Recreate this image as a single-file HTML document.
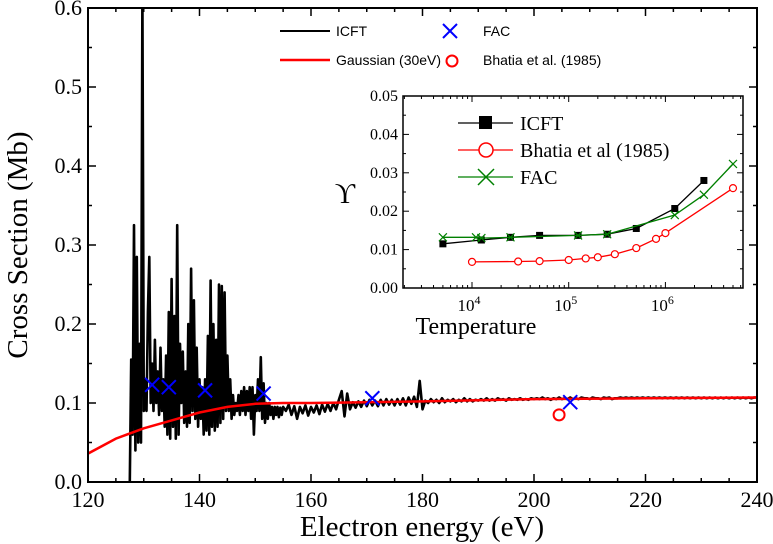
<!DOCTYPE html>
<html><head><meta charset="utf-8"><style>
html,body{margin:0;padding:0;background:#fff;}
svg{display:block;}
</style></head><body>
<svg id="chart" width="773" height="544" xmlns="http://www.w3.org/2000/svg">
<defs>
<clipPath id="mainclip"><rect x="88" y="8" width="669" height="474"/></clipPath>
<clipPath id="insetclip"><rect x="403" y="96" width="340" height="192"/></clipPath>
</defs>
<g id="main"></g>
<g id="inset"></g>
</svg>
<script>
// ---------- main chart data ----------
const icftStartA = 127.5, icftStepA = 0.25;
const icftValuesA = [0.0,0.155,0.06,0.325,0.04,0.285,0.05,0.175,0.05,0.62,0.09,0.13,0.09,0.215,0.285,0.1,0.15,0.09,0.18,0.1,0.14,0.085,0.17,0.09,0.13,0.07,0.16,0.06,0.215,0.055,0.257,0.07,0.21,0.055,0.325,0.06,0.175,0.1,0.165,0.075,0.14,0.07,0.2,0.075,0.27,0.09,0.23,0.08,0.17,0.07,0.13,0.08,0.12,0.06,0.13,0.065,0.185,0.06,0.255,0.07,0.2,0.065,0.18,0.07,0.25,0.075,0.248,0.08,0.24,0.09,0.16,0.09,0.13,0.08,0.11,0.085,0.1,0.09,0.11,0.085,0.115,0.09,0.12,0.085,0.115,0.09,0.12,0.08,0.12,0.06,0.11,0.09,0.13,0.09,0.158,0.08,0.125,0.075,0.1,0.08,0.1,0.085,0.095,0.08,0.095,0.085,0.095,0.082,0.094,0.085,0.095];
const icftStartB = 155.5, icftStepB = 0.5;
const icftValuesB = [
0.09,0.098,0.085,0.096,0.08,0.095,0.087,0.097,0.084,0.095,
0.088,0.097,0.086,0.098,0.089,0.099,0.09,0.1,0.092,0.104,
0.115,0.083,0.112,0.092,0.101,0.094,0.102,0.095,0.103,0.096,
0.104,0.097,0.103,0.096,0.104,0.097,0.105,0.098,0.104,0.097,
0.105,0.098,0.106,0.097,0.107,0.099,0.108,0.095,0.128,0.092,
0.103,0.1,0.105,0.101,0.104,0.1,0.106,0.101,0.104,0.102,
0.105,0.101,0.104,0.102,0.106,0.102,0.105,0.102,0.104,0.103,
0.105,0.103,0.106,0.103,0.105,0.103,0.106,0.104,0.105,0.103,
0.106,0.104,0.105,0.104,0.106,0.104,0.105,0.104,0.106,0.105,
0.106,0.105,0.107,0.105,0.106,0.104,0.106,0.105,0.107,0.105,
0.106,0.105,0.107,0.105,0.106,0.105,0.107,0.106,0.106,0.105,
0.107,0.106,0.106,0.105,0.107,0.106,0.107,0.105,0.106,0.106,
0.107,0.106,0.107,0.106,0.107,0.106,0.107,0.106,0.107,0.106,
0.107,0.106,0.107,0.106,0.107,0.106,0.107,0.106,0.107,0.106,
0.107,0.106,0.107,0.106,0.107,0.106,0.107,0.106,0.107,0.106,
0.107,0.106,0.107,0.106,0.107,0.106,0.107,0.106,0.107,0.106,
0.107,0.106,0.107,0.106,0.107,0.106,0.107,0.106,0.107,0.107];
const gaussE = [120,125,130,135,140,145,150,155,160,170,180,200,220,240];
const gaussV = [0.036,0.055,0.068,0.078,0.088,0.095,0.099,0.1,0.1,0.101,0.102,0.105,0.106,0.107];
const facE = [131.5,134.5,141,151.5,171,206.5];
const facV = [0.123,0.12,0.116,0.112,0.106,0.101];
const bhatiaE = [204.5];
const bhatiaV = [0.085];
const xTicks = [120,140,160,180,200,220,240];
const yTicks = [0.0,0.1,0.2,0.3,0.4,0.5,0.6];

// ---------- inset data ----------
const icftT = [5e3,1.25e4,2.5e4,5e4,1.25e5,2.5e5,5e5,1.25e6,2.5e6];
const icftU = [0.0115,0.0125,0.0132,0.0137,0.0137,0.014,0.0155,0.0207,0.028];
const bhT = [1e4,3e4,5e4,1e5,1.5e5,2e5,3e5,5e5,8e5,1e6,5e6];
const bhU = [0.0068,0.0069,0.007,0.0073,0.0077,0.008,0.0088,0.0104,0.0128,0.0143,0.026];
const facT = [5e3,1.1e4,1.25e4,2.5e4,1.25e5,2.5e5,1.25e6,2.5e6,5e6];
const facU = [0.0132,0.0132,0.013,0.0132,0.0137,0.014,0.019,0.0243,0.0323];
const insetYTicks = [0.00,0.01,0.02,0.03,0.04,0.05];
const insetXTicks = [4,5,6];

const NS="http://www.w3.org/2000/svg";
const SERIF='"Liberation Serif", serif';
const SANS='"Liberation Sans", sans-serif';
function mk(tag,attrs,parent){const e=document.createElementNS(NS,tag);
  if(tag==='text'&&!attrs['font-family'])e.setAttribute('font-family',SERIF);
  for(const k in attrs)e.setAttribute(k,attrs[k]);parent.appendChild(e);return e;}

const L=88,R=757,T=8,B=482;
const X=e=>L+(e-120)/(240-120)*(R-L);
const Y=v=>B-(v/0.6)*(B-T);
const main=document.getElementById('main');

let pts=[];
icftValuesA.forEach((v,i)=>pts.push([X(icftStartA+i*icftStepA),Y(v)]));
icftValuesB.forEach((v,i)=>pts.push([X(icftStartB+i*icftStepB),Y(v)]));
const icftPath=mk('path',{d:'M'+pts.map(p=>p[0].toFixed(1)+','+p[1].toFixed(1)).join('L'),fill:'none',stroke:'#000','stroke-width':2.6,'stroke-linejoin':'round','clip-path':'url(#mainclip)'},main);



const gp=mk('path',{d:'M'+gaussE.map((e,i)=>X(e).toFixed(1)+','+Y(gaussV[i]).toFixed(1)).join('L'),fill:'none',stroke:'#ff0000','stroke-width':2.5,'clip-path':'url(#mainclip)'},main);



function cross(g,x,y,s,col,w){mk('path',{d:`M${x-s},${y-s}L${x+s},${y+s}M${x-s},${y+s}L${x+s},${y-s}`,stroke:col,'stroke-width':w,fill:'none'},g);}
facE.forEach((e,i)=>{
  const g=mk('g',{},main);
  
  
  cross(g,X(e),Y(facV[i]),7,'#0000ff',2);
});
bhatiaE.forEach((e,i)=>{
  const c=mk('circle',{cx:X(e),cy:Y(bhatiaV[i]),r:5.5,fill:'none',stroke:'#ff0000','stroke-width':2},main);
  
  
});

const fr=mk('rect',{x:L,y:T,width:R-L,height:B-T,fill:'none',stroke:'#000','stroke-width':2},main);


for(let e=120;e<=240;e+=5){const big=(e%20===0);const l=big?8:4;
  mk('line',{x1:X(e),y1:B,x2:X(e),y2:B-l,stroke:'#000','stroke-width':1.5},main);
  mk('line',{x1:X(e),y1:T,x2:X(e),y2:T+l,stroke:'#000','stroke-width':1.5},main);}
for(let k=0;k<=12;k++){const v=k*0.05;const l=(k%2===0)?8:4;
  mk('line',{x1:L,y1:Y(v),x2:L+l,y2:Y(v),stroke:'#000','stroke-width':1.5},main);
  mk('line',{x1:R,y1:Y(v),x2:R-l,y2:Y(v),stroke:'#000','stroke-width':1.5},main);}
xTicks.forEach(t=>{const tx=mk('text',{x:X(t),y:B+25,'text-anchor':'middle','font-size':22},main);tx.textContent=t;
  
  });
yTicks.forEach(t=>{const tx=mk('text',{x:L-6,y:Y(t)+7,'text-anchor':'end','font-size':22},main);tx.textContent=t.toFixed(1);
  
  });
let xt=mk('text',{x:422,y:536,'text-anchor':'middle','font-size':29},main);xt.textContent='Electron energy (eV)';


let yt=mk('text',{x:0,y:0,'text-anchor':'middle','font-size':29,transform:'translate(27,245) rotate(-90)'},main);yt.textContent='Cross Section (Mb)';



const lg=mk('g',{},main);


mk('line',{x1:280,y1:31,x2:330,y2:31,stroke:'#000','stroke-width':2},lg);
mk('line',{x1:280,y1:60,x2:330,y2:60,stroke:'#ff0000','stroke-width':2.5},lg);
cross(lg,450,31,7,'#0000ff',2);
mk('circle',{cx:452,cy:61,r:5.5,fill:'none',stroke:'#ff0000','stroke-width':2},lg);
[['ICFT',336,36],['Gaussian (30eV)',336,65],['FAC',483,36],['Bhatia et al. (1985)',483,65]].forEach(a=>{
  const t=mk('text',{x:a[1],y:a[2],'font-size':14,'font-family':SANS},lg);t.textContent=a[0];
  
  });

const iL=403,iR=743,iT=96,iB=288;
const IX=t=>472+(Math.log10(t)-4)*96.7;
const IY=u=>iB-(u/0.05)*(iB-iT);
const ins=document.getElementById('inset');
const ifr=mk('rect',{x:iL,y:iT,width:iR-iL,height:iB-iT,fill:'#fff',stroke:'#000','stroke-width':1.5},ins);


for(let d=3;d<=6;d++){for(let m=1;m<10;m++){const v=m*Math.pow(10,d);const x=IX(v);if(x<iL||x>iR)continue;const l=m===1?6:3;
  mk('line',{x1:x,y1:iB,x2:x,y2:iB-l,stroke:'#000','stroke-width':1},ins);
  mk('line',{x1:x,y1:iT,x2:x,y2:iT+l,stroke:'#000','stroke-width':1},ins);}}
for(let k=0;k<=10;k++){const u=k*0.005;const l=(k%2===0)?6:3;
  mk('line',{x1:iL,y1:IY(u),x2:iL+l,y2:IY(u),stroke:'#000','stroke-width':1},ins);
  mk('line',{x1:iR,y1:IY(u),x2:iR-l,y2:IY(u),stroke:'#000','stroke-width':1},ins);}
insetYTicks.forEach(t=>{const tx=mk('text',{x:iL-5,y:IY(t)+5,'text-anchor':'end','font-size':16},ins);tx.textContent=t.toFixed(2);
  
  });
insetXTicks.forEach(p=>{const tx=mk('text',{x:IX(Math.pow(10,p))-3,y:iB+23,'text-anchor':'middle','font-size':17},ins);
  tx.appendChild(document.createTextNode('10'));const s=mk('tspan',{dy:-7,'font-size':12},tx);s.textContent=p;
  
  });
let it=mk('text',{x:476,y:334,'text-anchor':'middle','font-size':24},ins);it.textContent='Temperature';


let iy=mk('text',{x:345,y:203,'text-anchor':'middle','font-size':28},ins);iy.textContent='\u03D2';



function series(Ts,Us,col,name){const g=mk('g',{'clip-path':'url(#insetclip)'},ins);
  
  
  mk('path',{d:'M'+Ts.map((t,i)=>IX(t).toFixed(1)+','+IY(Us[i]).toFixed(1)).join('L'),fill:'none',stroke:col,'stroke-width':1.3},g);return g;}
const gI=series(icftT,icftU,'#000','inset-icft-series');
icftT.forEach((t,i)=>mk('rect',{x:IX(t)-3.5,y:IY(icftU[i])-3.5,width:7,height:7,fill:'#000'},gI));
const gB=series(bhT,bhU,'#ff0000','inset-bhatia-series');
bhT.forEach((t,i)=>mk('circle',{cx:IX(t),cy:IY(bhU[i]),r:3.5,fill:'#fff',stroke:'#ff0000','stroke-width':1.2},gB));
const gF=series(facT,facU,'#008000','inset-fac-series');
facT.forEach((t,i)=>cross(gF,IX(t),IY(facU[i]),4,'#008000',1.2));

const il=mk('g',{},ins);


mk('line',{x1:458,y1:123,x2:513,y2:123,stroke:'#000','stroke-width':1.3},il);
mk('rect',{x:479,y:116,width:13,height:13,fill:'#000'},il);
mk('line',{x1:458,y1:150,x2:513,y2:150,stroke:'#ff0000','stroke-width':1.3},il);
mk('circle',{cx:486,cy:150,r:7,fill:'#fff',stroke:'#ff0000','stroke-width':1.5},il);
mk('line',{x1:458,y1:177,x2:513,y2:177,stroke:'#008000','stroke-width':1.3},il);
cross(il,486,177,8,'#008000',1.5);
[['ICFT',123],['Bhatia et al (1985)',150],['FAC',177]].forEach(a=>{
  const t=mk('text',{x:520,y:a[1]+7,'font-size':20},il);t.textContent=a[0];
  
  });
</script>
</body></html>
